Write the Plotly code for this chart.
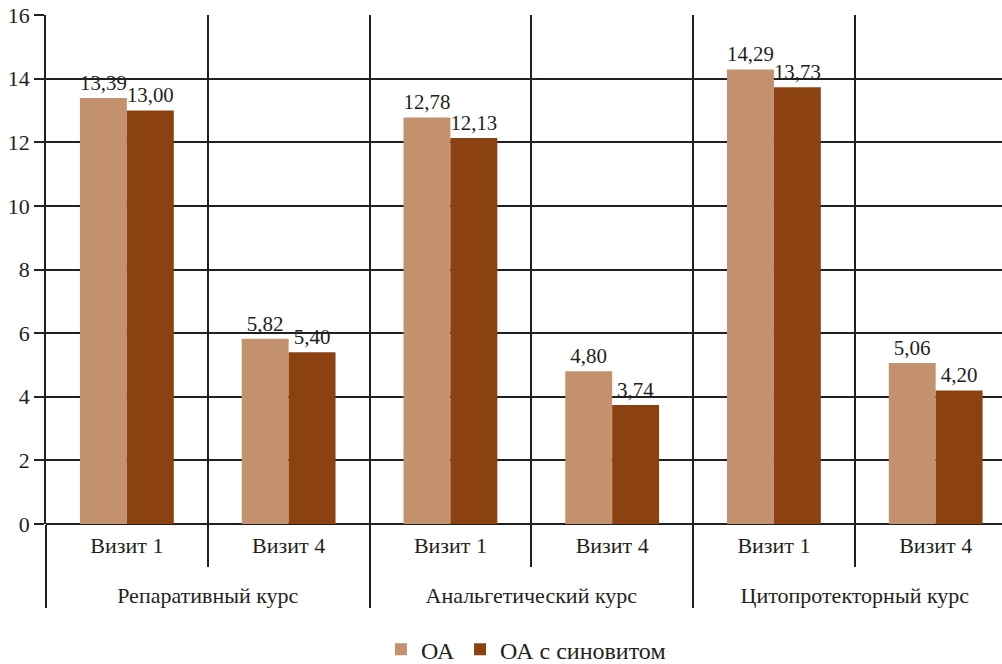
import plotly.graph_objects as go

courses = ["Репаративный курс", "Репаративный курс",
           "Анальгетический курс", "Анальгетический курс",
           "Цитопротекторный курс", "Цитопротекторный курс"]
visits = ["Визит 1", "Визит 4", "Визит 1", "Визит 4", "Визит 1", "Визит 4"]

oa = [13.39, 5.82, 12.78, 4.80, 14.29, 5.06]
oa_synovitis = [13.00, 5.40, 12.13, 3.74, 13.73, 4.20]

series_names = ["ОА", "ОА с синовитом"]
series_colors = ["#C4916F", "#8C4210"]

ink = "#231F20"
font_family = "Liberation Serif, Times New Roman, serif"


def fmt(v):
    return f"{v:.2f}".replace(".", ",")


# outer level labels start with an empty line so they sit lower under the visits
outer_labels = ["<br>" + c for c in courses]

fig = go.Figure()
for name, vals, color in zip(series_names, [oa, oa_synovitis], series_colors):
    fig.add_trace(go.Bar(
        x=[outer_labels, visits],
        y=vals,
        name=name,
        marker=dict(color=color, line=dict(width=0)),
        text=[fmt(v) for v in vals],
        textposition="outside",
        textfont=dict(size=21, color=ink, family=font_family),
        cliponaxis=False,
    ))

fig.update_layout(
    width=1002,
    height=664,
    margin=dict(l=46, r=0, t=15, b=140, autoexpand=False),
    paper_bgcolor="white",
    plot_bgcolor="white",
    barmode="group",
    bargap=0.42,
    bargroupgap=0,
    font=dict(family=font_family, size=22, color=ink),
    legend=dict(
        orientation="h",
        x=0.502, xanchor="center",
        y=-0.247, yanchor="middle",
        font=dict(size=24, color=ink, family=font_family),
        itemwidth=30,
    ),
)

fig.update_xaxes(
    type="multicategory",
    range=[-0.5, 5.41],
    automargin=False,
    showgrid=True,
    gridcolor=ink,
    gridwidth=1.6,
    tickson="boundaries",
    ticks="outside",
    ticklen=42,
    tickwidth=1.6,
    tickcolor=ink,
    ticklabelstandoff=6,
    showdividers=True,
    dividercolor=ink,
    dividerwidth=1.6,
    showline=False,
    tickfont=dict(size=22, color=ink, family=font_family),
)

fig.update_yaxes(
    range=[0, 16],
    dtick=2,
    automargin=False,
    showgrid=True,
    gridcolor=ink,
    gridwidth=1.6,
    showline=True,
    linecolor=ink,
    linewidth=1.6,
    ticks="outside",
    ticklen=10,
    tickwidth=1.6,
    tickcolor=ink,
    zeroline=True,
    zerolinecolor=ink,
    zerolinewidth=1.6,
    tickfont=dict(size=22, color=ink, family=font_family),
)

fig.write_html("out.html")
